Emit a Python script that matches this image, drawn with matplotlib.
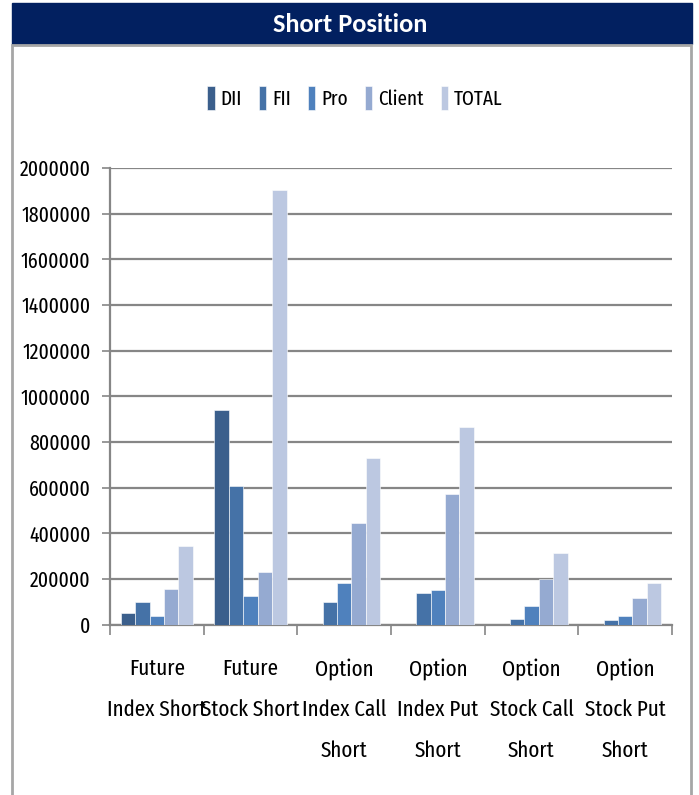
import matplotlib.pyplot as plt
import matplotlib.patches as mpatches
import numpy as np

# Short position by participant, per segment
categories = ["Future\nIndex Short", "Future\nStock Short", "Option\nIndex Call\nShort",
              "Option\nIndex Put\nShort", "Option\nStock Call\nShort", "Option\nStock Put\nShort"]
series_names = ["DII", "FII", "Pro", "Client", "TOTAL"]
dii = [51000, 939000, 0, 0, 0, 0]
fii = [100000, 607000, 99000, 137000, 25000, 19000]
pro = [38000, 126000, 181000, 152000, 83000, 38000]
client = [158000, 229000, 446000, 572000, 198000, 117000]
total = [346000, 1902000, 729000, 867000, 315000, 181000]
y_ticks = list(range(0, 2000001, 200000))

colors = ["#3b5f8c", "#4572a7", "#4f81bd", "#95aad1", "#bcc8e1"]
font = ["Fira Sans Extra Condensed", "DejaVu Sans"]
plt.rcParams["font.family"] = font

W, H = 699, 795
fig = plt.figure(figsize=(W / 100, H / 100), dpi=100)

# header band and frame
fig.patches.append(mpatches.Rectangle((12 / W, 1 - 44 / H), 680 / W, 41 / H,
                                      transform=fig.transFigure, color="#022060", zorder=0))
fig.patches.append(mpatches.Rectangle((12 / W, -0.05), 679 / W, 1.05 - 45 / H,
                                      transform=fig.transFigure, facecolor="none",
                                      edgecolor="#a6a6a6", lw=2, zorder=0))
fig.text(350 / W, 1 - 24 / H, "Short Position", color="white", fontsize=19,
         fontweight="bold", family=["Carlito", "DejaVu Sans"], ha="center", va="center")

ax = fig.add_axes([110 / W, 1 - 624.7 / H, 562 / W, (624.7 - 168) / H])

data = [dii, fii, pro, client, total]
x = np.arange(len(categories))
bw = 0.154
for i, (name, vals) in enumerate(zip(series_names, data)):
    ax.bar(x + (i - 2) * bw, vals, width=bw, color=colors[i], edgecolor="white",
           linewidth=0.4, label=name, zorder=3)

ax.set_xlim(-0.5, len(categories) - 0.5)
ax.set_ylim(0, 2000000)
ax.set_yticks(y_ticks)
ax.set_yticklabels([str(v) for v in y_ticks], fontsize=15.5)
ax.yaxis.grid(True, color="#868686", linewidth=1.6, zorder=1)
ax.set_axisbelow(True)

ax.set_xticks(x)
ax.set_xticklabels(categories, fontsize=16.5, linespacing=2.15)
ax.set_xticks(np.arange(-0.5, len(categories)), minor=True)
ax.tick_params(axis="x", which="major", length=0, pad=24)
ax.tick_params(axis="x", which="minor", length=7, color="#868686", width=1.2)
ax.tick_params(axis="y", length=6, color="#868686", width=1.2, pad=8)

for s in ["top", "right"]:
    ax.spines[s].set_visible(False)
for s in ["left", "bottom"]:
    ax.spines[s].set_color("#868686")
    ax.spines[s].set_linewidth(1.6)

fig.legend(loc="center", bbox_to_anchor=(355 / W, 1 - 98 / H), ncol=5, frameon=False,
           fontsize=15, handlelength=0.35, handleheight=1.4, handletextpad=0.3,
           columnspacing=0.8)

fig.savefig("out.png", dpi=100)
